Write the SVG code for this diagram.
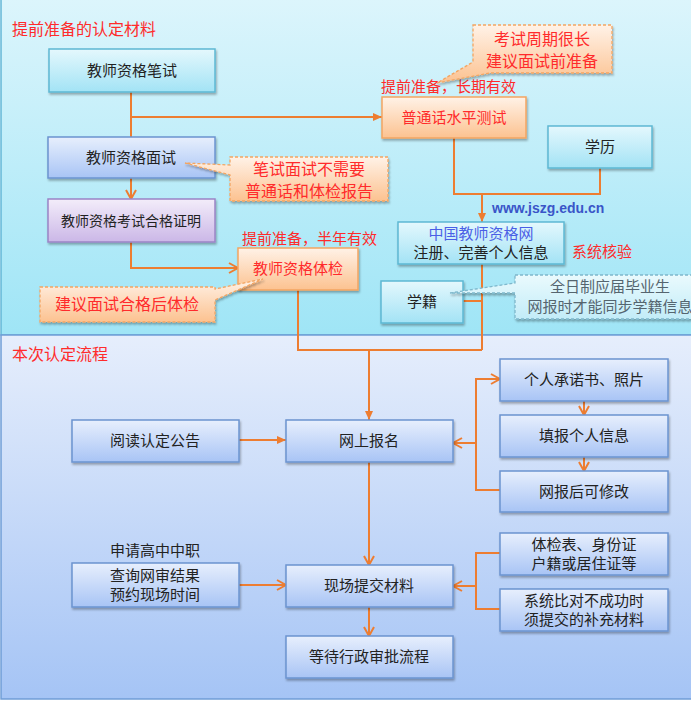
<svg xmlns="http://www.w3.org/2000/svg" width="691" height="701" viewBox="0 0 691 701">
<defs>
<linearGradient id="gTop" x1="0" y1="0" x2="0" y2="1"><stop offset="0" stop-color="#dcf5fc"/><stop offset="1" stop-color="#9fe5f6"/></linearGradient>
<linearGradient id="gBot" x1="0" y1="0" x2="0" y2="1"><stop offset="0" stop-color="#e6eefc"/><stop offset="1" stop-color="#a5c4f5"/></linearGradient>
<linearGradient id="gCyan" x1="0" y1="0" x2="0" y2="1"><stop offset="0" stop-color="#e4f8fd"/><stop offset="1" stop-color="#a3e3f5"/></linearGradient>
<linearGradient id="gBlue" x1="0" y1="0" x2="0" y2="1"><stop offset="0" stop-color="#e7effd"/><stop offset="1" stop-color="#a8c4f5"/></linearGradient>
<linearGradient id="gPurple" x1="0" y1="0" x2="0" y2="1"><stop offset="0" stop-color="#f3edfa"/><stop offset="1" stop-color="#cbb7e7"/></linearGradient>
<linearGradient id="gOrange" x1="0" y1="0" x2="0" y2="1"><stop offset="0" stop-color="#fff2e7"/><stop offset="1" stop-color="#fcc290"/></linearGradient>
<linearGradient id="gNote" x1="0" y1="0" x2="0" y2="1"><stop offset="0" stop-color="#eafafd"/><stop offset="1" stop-color="#c2ecf8"/></linearGradient>
<filter id="sh" x="-10%" y="-10%" width="130%" height="140%"><feDropShadow dx="1" dy="2" stdDeviation="1.2" flood-color="#000" flood-opacity="0.3"/></filter>
<marker id="tri" markerUnits="userSpaceOnUse" markerWidth="10" markerHeight="10" refX="9" refY="5" orient="auto"><path d="M0,1 L9,5 L0,9 Z" fill="#ed7d31"/></marker>
<marker id="chev" markerUnits="userSpaceOnUse" markerWidth="12" markerHeight="12" refX="10" refY="6" orient="auto"><path d="M1,1 L10,6 L1,11" fill="none" stroke="#ed7d31" stroke-width="2"/></marker>
</defs>
<style>
text{font-family:"Noto Sans CJK SC","Noto Sans",sans-serif;font-size:15px;fill:#222}
.c{text-anchor:middle}
.red{fill:#ff2b2b}
.lab{fill:#ff2b2b;font-size:15px}
.sec{fill:#ff2b2b;font-size:16px}
.note{fill:#ff2b2b;font-size:16px;text-anchor:middle}
.cyan{fill:url(#gCyan);stroke:#5db8d3;stroke-width:1.5;filter:url(#sh)}
.blue{fill:url(#gBlue);stroke:#6b94d0;stroke-width:1.5;filter:url(#sh)}
.purple{fill:url(#gPurple);stroke:#9b84c6;stroke-width:1.5;filter:url(#sh)}
.orange{fill:url(#gOrange);stroke:#f3a562;stroke-width:1.5;filter:url(#sh)}
.callout{fill:url(#gOrange);stroke:#f3a562;stroke-width:1.3;stroke-dasharray:3 2;filter:url(#sh)}
.callout2{fill:url(#gNote);stroke:#7fb8cc;stroke-width:1.3;stroke-dasharray:3 2;filter:url(#sh)}
.ln{fill:none;stroke:#ed7d31;stroke-width:2}
</style>

<!-- panels -->
<rect x="1" y="-1" width="692" height="336" fill="url(#gTop)" stroke="#63b6d6" stroke-width="1.5"/>
<rect x="1" y="335" width="692" height="364" fill="url(#gBot)" stroke="#6f9dd6" stroke-width="1.5"/>
<text x="12" y="35" class="sec">提前准备的认定材料</text>
<text x="12" y="360" class="sec">本次认定流程</text>

<!-- connectors -->
<g id="connectors">
<path class="ln" d="M131,92 V137"/>
<path class="ln" d="M131,117 H382" marker-end="url(#tri)"/>
<path class="ln" d="M131,178 V199" marker-end="url(#chev)"/>
<path class="ln" d="M131,242 V268 H238" marker-end="url(#chev)"/>
<path class="ln" d="M454,138 V194 H600 V168"/>
<path class="ln" d="M482,194 V222" marker-end="url(#tri)"/>
<path class="ln" d="M482,264 V350"/>
<path class="ln" d="M463,301 H482"/>
<path class="ln" d="M298,290 V350 H482"/>
<path class="ln" d="M369,350 V420" marker-end="url(#tri)"/>
<path class="ln" d="M239,440 H286" marker-end="url(#tri)"/>
<path class="ln" d="M500,490 H476 V379 H500" marker-end="url(#chev)"/>
<path class="ln" d="M476,443 H453" marker-end="url(#chev)"/>
<path class="ln" d="M584,401 V415" marker-end="url(#chev)"/>
<path class="ln" d="M584,457 V471" marker-end="url(#chev)"/>
<path class="ln" d="M239,585 H286" marker-end="url(#chev)"/>
<path class="ln" d="M369,462 V565" marker-end="url(#chev)"/>
<path class="ln" d="M500,553 H476 V609 H500"/>
<path class="ln" d="M476,586 H453" marker-end="url(#chev)"/>
<path class="ln" d="M369,607 V636" marker-end="url(#chev)"/>
</g>

<!-- top nodes -->
<g id="n-bishi"><rect class="cyan" x="49" y="49" width="166" height="43"/><text x="132" y="76" class="c">教师资格笔试</text></g>
<g id="n-mianshi"><rect class="blue" x="48" y="137" width="167" height="41"/><text x="131" y="163" class="c">教师资格面试</text></g>
<g id="n-zhengming"><rect class="purple" x="48" y="199" width="167" height="43"/><text x="131" y="226" class="c" style="font-size:14px">教师资格考试合格证明</text></g>
<g id="n-tijian"><rect class="orange" x="238" y="248" width="120" height="42"/><text x="298" y="274" class="c red">教师资格体检</text></g>
<g id="n-putonghua"><rect class="orange" x="382" y="97" width="144" height="41"/><text x="454" y="123" class="c red">普通话水平测试</text></g>
<g id="n-xueli"><rect class="cyan" x="548" y="126" width="104" height="42"/><text x="600" y="152" class="c">学历</text></g>
<g id="n-jszg"><rect class="cyan" x="398" y="222" width="166" height="42"/><text x="481" y="239" class="c" style="fill:#4a5fe6">中国教师资格网</text><text x="481" y="258" class="c">注册、完善个人信息</text></g>
<g id="n-xueji"><rect class="cyan" x="381" y="281" width="82" height="42"/><text x="422" y="307" class="c">学籍</text></g>

<!-- labels -->
<text x="381" y="92" class="lab">提前准备，长期有效</text>
<text x="242" y="244" class="lab">提前准备，半年有效</text>
<text x="492" y="213" style="font-family:'Liberation Sans',Arial,sans-serif;font-weight:bold;font-size:14px;fill:#3a55c8">www.jszg.edu.cn</text>
<text x="572" y="257" class="lab">系统核验</text>

<!-- callouts -->
<g id="c-zhouqi"><path class="callout" d="M473,25 H612 V73 H490 L437,83 L473,62 Z"/><text x="542" y="45" class="note">考试周期很长</text><text x="542" y="67" class="note">建议面试前准备</text></g>
<g id="c-buxuyao"><path class="callout" d="M230,157 H388 V201 H230 V175 L185,163 L230,165 Z"/><text x="309" y="175" class="note">笔试面试不需要</text><text x="309" y="197" class="note">普通话和体检报告</text></g>
<g id="c-houtijian"><path class="callout" d="M40,287 H215 V289 L263,279 L215,300 V322 H40 Z"/><text x="127" y="310" class="note">建议面试合格后体检</text></g>
<g id="c-xueji"><path class="callout2" d="M515,275 H700 V319 H515 V293 L450,293 L515,283 Z"/><text x="610" y="292" class="c" style="fill:#55656f">全日制应届毕业生</text><text x="610" y="312" class="c" style="fill:#55656f">网报时才能同步学籍信息</text></g>

<!-- bottom nodes -->
<g id="n-yuedu"><rect class="blue" x="72" y="420" width="167" height="42"/><text x="155" y="446" class="c">阅读认定公告</text></g>
<g id="n-wangshang"><rect class="blue" x="286" y="420" width="167" height="42"/><text x="369" y="446" class="c">网上报名</text></g>
<g id="n-chengnuo"><rect class="blue" x="500" y="359" width="168" height="42"/><text x="584" y="385" class="c">个人承诺书、照片</text></g>
<g id="n-tianbao"><rect class="blue" x="500" y="415" width="168" height="42"/><text x="584" y="441" class="c">填报个人信息</text></g>
<g id="n-xiugai"><rect class="blue" x="500" y="471" width="168" height="41"/><text x="584" y="497" class="c">网报后可修改</text></g>
<text x="110" y="556">申请高中中职</text>
<g id="n-chaxun"><rect class="blue" x="72" y="563" width="167" height="44"/><text x="110" y="581">查询网审结果</text><text x="110" y="600">预约现场时间</text></g>
<g id="n-xianchang"><rect class="blue" x="286" y="565" width="167" height="42"/><text x="369" y="591" class="c">现场提交材料</text></g>
<g id="n-tijianbiao"><rect class="blue" x="500" y="533" width="168" height="42"/><text x="584" y="550" class="c">体检表、身份证</text><text x="584" y="569" class="c">户籍或居住证等</text></g>
<g id="n-buchong"><rect class="blue" x="500" y="589" width="168" height="42"/><text x="584" y="606" class="c">系统比对不成功时</text><text x="584" y="625" class="c">须提交的补充材料</text></g>
<g id="n-dengdai"><rect class="blue" x="286" y="636" width="167" height="42"/><text x="369" y="662" class="c">等待行政审批流程</text></g>
</svg>
